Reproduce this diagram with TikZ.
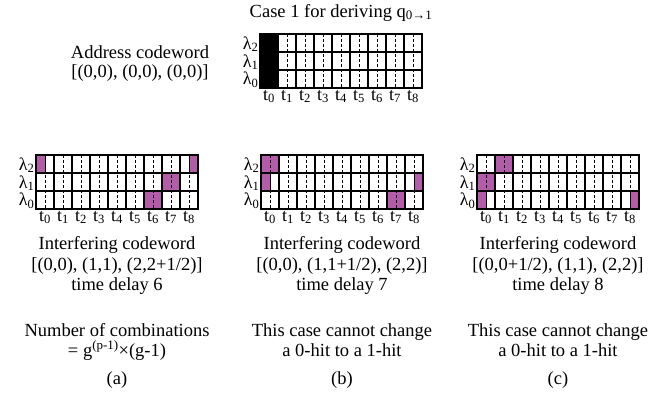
\documentclass[tikz,border=0pt]{standalone}
\usepackage{fontspec}
\setmainfont{Liberation Serif}
\definecolor{hitpurple}{RGB}{178,92,170}
\tikzset{
  txt/.style={font=\fontsize{18.5}{21}\selectfont, inner sep=0pt, anchor=base},
  lab/.style={font=\fontsize{18}{20}\selectfont, inner sep=0pt},
  gridsolid/.style={line width=1.1pt},
  griddash/.style={line width=0.6pt, dash pattern=on 3pt off 2pt},
  hit/.style={fill=hitpurple, draw=black, line width=0.8pt},
  fullhit/.style={fill=black},
}
% #1 x0, #2 y0, #3 name prefix
\newcommand{\codegrid}[3]{%
  \foreach \k in {0,...,8} {
    \draw[griddash] ({#1+18*\k+9},#2) -- ++(0,54);
  }
  \foreach \k in {0,...,9} {
    \draw[gridsolid] ({#1+18*\k},#2) -- ++(0,54);
  }
  \foreach \r in {0,...,3} {
    \draw[gridsolid] ({#1-0.55},{#2+18*\r}) -- ++(163.1,0);
  }
  \foreach \k in {0,...,8} {
    \node[lab, anchor=north] (#3-t\k) at ({#1+18*\k+9},{#2+56}) {t\textsubscript{\k}};
  }
  \node[lab, anchor=east] (#3-l2) at ({#1-1.5},{#2+10}) {λ\textsubscript{2}};
  \node[lab, anchor=east] (#3-l1) at ({#1-1.5},{#2+28}) {λ\textsubscript{1}};
  \node[lab, anchor=east] (#3-l0) at ({#1-1.5},{#2+46}) {λ\textsubscript{0}};
}
% #1 x0, #2 y0, #3 row, #4 start, #5 end
\newcommand{\hitcell}[5]{%
  \draw[hit] ({#1+18*#4},{#2+18*#3}) rectangle ({#1+18*#5},{#2+18*#3+18});
}
\begin{document}
\begin{tikzpicture}[x=1pt,y=-1pt]
\useasboundingbox (0,0) rectangle (662,413);

\node[txt] (title) at (341,17) {Case 1 for deriving q\textsubscript{0→1}};
\node[txt] (addr1) at (140,58) {Address codeword};
\node[txt] (addr2) at (140,77) {[(0,0), (0,0), (0,0)]};

% top grid: address codeword
\fill[fullhit] (260,34) rectangle (278,88);
\codegrid{260}{34}{top}

% (a)
\hitcell{36}{155}{0}{0}{0.5}
\hitcell{36}{155}{0}{8.5}{9}
\hitcell{36}{155}{1}{7}{8}
\hitcell{36}{155}{2}{6}{7}
\codegrid{36}{155}{ga}

% (b)
\hitcell{261}{155}{0}{0}{1}
\hitcell{261}{155}{1}{0}{0.5}
\hitcell{261}{155}{1}{8.5}{9}
\hitcell{261}{155}{2}{7}{8}
\codegrid{261}{155}{gb}

% (c)
\hitcell{477}{155}{0}{1}{2}
\hitcell{477}{155}{1}{0}{1}
\hitcell{477}{155}{2}{0}{0.5}
\hitcell{477}{155}{2}{8.5}{9}
\codegrid{477}{155}{gc}

% texts (a)
\node[txt] (a1) at (117,249) {Interfering codeword};
\node[txt] (a2) at (117,270) {[(0,0), (1,1), (2,2+1/2)]};
\node[txt] (a3) at (117,290) {time delay 6};
\node[txt] (a4) at (117,336) {Number of combinations};
\node[txt] (a5) at (117,356) {= g\textsuperscript{(p-1)}×(g-1)};
\node[txt] (a6) at (117,384) {(a)};

% texts (b)
\node[txt] (b1) at (342,249) {Interfering codeword};
\node[txt] (b2) at (342,270) {[(0,0), (1,1+1/2), (2,2)]};
\node[txt] (b3) at (342,290) {time delay 7};
\node[txt] (b4) at (342,336) {This case cannot change};
\node[txt] (b5) at (342,356) {a 0-hit to a 1-hit};
\node[txt] (b6) at (342,384) {(b)};

% texts (c)
\node[txt] (c1) at (558,249) {Interfering codeword};
\node[txt] (c2) at (558,270) {[(0,0+1/2), (1,1), (2,2)]};
\node[txt] (c3) at (558,290) {time delay 8};
\node[txt] (c4) at (558,336) {This case cannot change};
\node[txt] (c5) at (558,356) {a 0-hit to a 1-hit};
\node[txt] (c6) at (558,384) {(c)};
\end{tikzpicture}
\end{document}
